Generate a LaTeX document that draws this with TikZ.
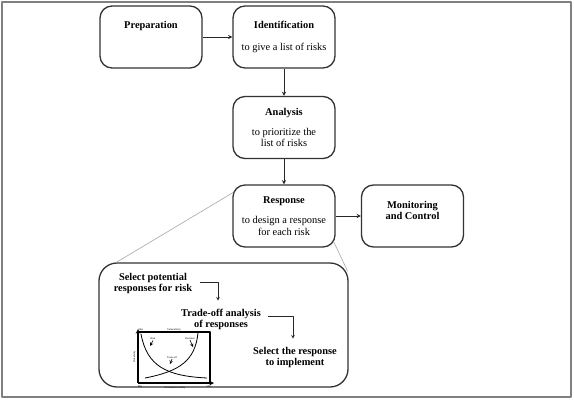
\documentclass[tikz,border=0pt]{standalone}
\usepackage{fontspec}
\setmainfont{Liberation Serif}
\usetikzlibrary{calc}
\begin{document}
\begin{tikzpicture}[x=1pt,y=-1pt,line join=round,>=stealth,font=\fontsize{10.4}{11.5}\selectfont]
    \def \boxw{102}
    \def \boxh{62}
    \tikzset{stepbox/.style={draw=black!80,line width=1.3pt,rounded corners=12pt,minimum width=\boxw pt,minimum height=\boxh pt,align=center,inner sep=2pt},
             flow/.style={->,line width=0.9pt,black!85},
             zoomline/.style={gray!70,line width=0.6pt},
             substep/.style={align=center,inner sep=3pt,font=\fontsize{10.4}{11}\selectfont\bfseries},
             tiny/.style={font=\fontsize{2.6}{3}\selectfont,inner sep=0.4pt}}
    \useasboundingbox (0,0) rectangle (574,400);
    \draw[gray,line width=2.5pt] (2,2) rectangle (571,397);
    % main steps
    \node[stepbox] (prep) at (151,37) {\textbf{Preparation}\\[12pt]\mbox{}};
    \node[stepbox] (ident) at (284,37) {\textbf{Identification}\\[10pt]to give a list of risks};
    \node[stepbox] (anal) at (284,127.5) {\textbf{Analysis}\\[8pt]to prioritize the\\list of risks};
    \node[stepbox] (resp) at (284,216) {\textbf{Response}\\[9pt]to design a response\\for each risk};
    \node[stepbox] (mon) at (412.5,216) {\textbf{Monitoring}\\\textbf{and Control}\\[0pt]\mbox{}};
    \draw[flow] (prep) -- (ident);
    \draw[flow] (ident) -- (anal);
    \draw[flow] (anal) -- (resp);
    \draw[flow] (resp) -- (mon);
    % detail of the response step
    \node[draw=black!80,line width=1.3pt,rounded corners=18pt,minimum width=249pt,minimum height=124pt] (detail) at (223.5,325) {};
    \draw[zoomline] ($(resp.north west)+(1,8)$) -- ($(detail.north west)+(18,0)$);
    \draw[zoomline] ($(resp.south east)+(-2,-6)$) -- ($(detail.north east)+(-1,9)$);
    \node[substep] (select) at (153,283) {Select potential\\responses for risk};
    \node[substep] (trade) at (221,319) {Trade-off analysis\\of responses};
    \node[substep] (impl) at (295,357) {Select the response\\to implement};
    \draw[flow,line width=0.6pt] ($(select.east)+(5,-1)$) -| ($(trade.north)+(-3,-5)$);
    \draw[flow,line width=0.6pt] ($(trade.east)+(4,-3)$) -| ($(impl.north)+(-2,-5)$);
    % small trade-off chart
    \draw[line width=1.1pt] (138,332) -- (210,332) -- (210,383);
    \draw[->,line width=1.1pt] (138,383) -- (138,329);
    \draw[->,line width=1.1pt] (138,383) -- (214,383);
    \draw[line width=0.8pt] (141,334) .. controls (147,366) and (166,376) .. (207,378);
    \draw[line width=0.8pt] (145,378) .. controls (181,371) and (195,360) .. (198,333);
    \node[tiny] (vuln) at (174,329.5) {Vulnerability};
    \node[tiny,rotate=90] (prob) at (134.5,357) {Probability};
    \node[tiny] (invest) at (175,387.5) {Investment in safety};
    \node[tiny] (maxy) at (141,329.5) {Max};
    \node[tiny] (miny) at (140,387) {Min};
    \node[tiny] (maxx) at (209,387) {Max};
    \node[tiny] (risk) at (153,339) {Risk};
    \node[tiny] (resid) at (190,338.5) {Residual};
    \node[tiny] (tradeoff) at (172,357.5) {Trade-off};
    \coordinate (risktip) at (150,346);
    \coordinate (residtip) at (193,347);
    \coordinate (tradetip) at (170,364);
    \draw[->,line width=0.6pt] (risk.south) -- (risktip);
    \draw[->,line width=0.6pt] (resid.south) -- (residtip);
    \draw[->,line width=0.6pt] (tradeoff.south) -- (tradetip);
\end{tikzpicture}
\end{document}
